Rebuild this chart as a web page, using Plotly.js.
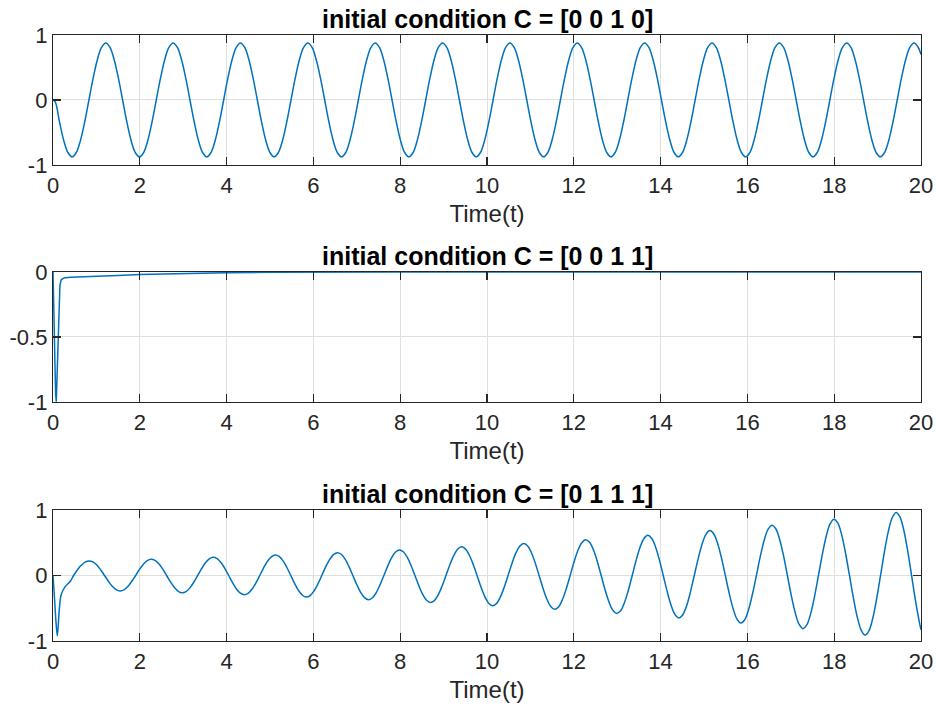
<!DOCTYPE html>
<html>
<head>
<meta charset="utf-8">
<script src="https://cdn.plot.ly/plotly-3.0.1.min.js"></script>
<style>
  html, body { margin: 0; padding: 0; background: #ffffff; }
  #chart { width: 936px; height: 708px; }
</style>
</head>
<body>
<div id="chart"></div>
<script>
// ---------------- data ----------------
const titleTop = 'initial condition C = [0 0 1 0]';
const titleMid = 'initial condition C = [0 0 1 1]';
const titleBot = 'initial condition C = [0 1 1 1]';
const xLabel = 'Time(t)';

const xTickVals = [0, 2, 4, 6, 8, 10, 12, 14, 16, 18, 20];
const yTickValsPM = [-1, 0, 1];
const yTickTextPM = ['-1', '0', '1'];
const yTickValsMid = [-1, -0.5, 0];
const yTickTextMid = ['-1', '-0.5', '0'];

// top panel: C = [0 0 1 0]
const tTop = [0, 0.052, 0.149, 0.246, 0.343,
  0.44, 0.537, 0.634, 0.731, 0.828, 0.925, 1.022, 1.119,
  1.216, 1.313, 1.41, 1.507, 1.604, 1.701, 1.798, 1.895,
  1.992, 2.089, 2.186, 2.283, 2.38, 2.477, 2.574, 2.671,
  2.768, 2.865, 2.962, 3.059, 3.156, 3.253, 3.35, 3.447,
  3.544, 3.641, 3.738, 3.835, 3.932, 4.029, 4.126, 4.223,
  4.32, 4.417, 4.514, 4.611, 4.708, 4.805, 4.902, 4.999,
  5.096, 5.193, 5.29, 5.387, 5.484, 5.581, 5.678, 5.775,
  5.872, 5.969, 6.066, 6.163, 6.26, 6.357, 6.454, 6.551,
  6.648, 6.745, 6.842, 6.939, 7.036, 7.133, 7.23, 7.327,
  7.424, 7.521, 7.618, 7.715, 7.812, 7.909, 8.006, 8.103,
  8.2, 8.297, 8.394, 8.491, 8.588, 8.685, 8.782, 8.879,
  8.976, 9.073, 9.17, 9.267, 9.364, 9.461, 9.558, 9.655,
  9.752, 9.849, 9.946, 10.043, 10.14, 10.237, 10.334, 10.431,
  10.528, 10.625, 10.722, 10.819, 10.916, 11.013, 11.11, 11.207,
  11.304, 11.401, 11.498, 11.595, 11.692, 11.789, 11.886, 11.983,
  12.08, 12.177, 12.274, 12.371, 12.468, 12.565, 12.662, 12.759,
  12.856, 12.953, 13.05, 13.147, 13.244, 13.341, 13.438, 13.535,
  13.632, 13.729, 13.826, 13.923, 14.02, 14.117, 14.214, 14.311,
  14.408, 14.505, 14.602, 14.699, 14.796, 14.893, 14.99, 15.087,
  15.184, 15.281, 15.378, 15.475, 15.572, 15.669, 15.766, 15.863,
  15.96, 16.057, 16.154, 16.251, 16.348, 16.445, 16.542, 16.639,
  16.736, 16.833, 16.93, 17.027, 17.124, 17.221, 17.318, 17.415,
  17.512, 17.609, 17.706, 17.803, 17.9, 17.997, 18.094, 18.191,
  18.288, 18.385, 18.482, 18.579, 18.676, 18.773, 18.87, 18.967,
  19.064, 19.161, 19.258, 19.355, 19.452, 19.549, 19.646, 19.743,
  19.84, 19.937, 20.0];
const yTop = [0, -0.03, -0.335, -0.619, -0.808,
  -0.875, -0.808, -0.619, -0.335, 0, 0.335, 0.619, 0.808,
  0.875, 0.808, 0.619, 0.335, 0, -0.335, -0.619, -0.808,
  -0.875, -0.808, -0.619, -0.335, 0, 0.335, 0.619, 0.808,
  0.875, 0.808, 0.619, 0.335, 0, -0.335, -0.619, -0.808,
  -0.875, -0.808, -0.619, -0.335, 0, 0.335, 0.619, 0.808,
  0.875, 0.808, 0.619, 0.335, 0, -0.335, -0.619, -0.808,
  -0.875, -0.808, -0.619, -0.335, 0, 0.335, 0.619, 0.808,
  0.875, 0.808, 0.619, 0.335, 0, -0.335, -0.619, -0.808,
  -0.875, -0.808, -0.619, -0.335, 0, 0.335, 0.619, 0.808,
  0.875, 0.808, 0.619, 0.335, 0, -0.335, -0.619, -0.808,
  -0.875, -0.808, -0.619, -0.335, 0, 0.335, 0.619, 0.808,
  0.875, 0.808, 0.619, 0.335, 0, -0.335, -0.619, -0.808,
  -0.875, -0.808, -0.619, -0.335, 0, 0.335, 0.619, 0.808,
  0.875, 0.808, 0.619, 0.335, 0, -0.335, -0.619, -0.808,
  -0.875, -0.808, -0.619, -0.335, 0, 0.335, 0.619, 0.808,
  0.875, 0.808, 0.619, 0.335, 0, -0.335, -0.619, -0.808,
  -0.875, -0.808, -0.619, -0.335, 0, 0.335, 0.619, 0.808,
  0.875, 0.808, 0.619, 0.335, 0, -0.335, -0.619, -0.808,
  -0.875, -0.808, -0.619, -0.335, 0, 0.335, 0.619, 0.808,
  0.875, 0.808, 0.619, 0.335, 0, -0.335, -0.619, -0.808,
  -0.875, -0.808, -0.619, -0.335, 0, 0.335, 0.619, 0.808,
  0.875, 0.808, 0.619, 0.335, 0, -0.335, -0.619, -0.808,
  -0.875, -0.808, -0.619, -0.335, 0, 0.335, 0.619, 0.808,
  0.875, 0.808, 0.619, 0.335, 0, -0.335, -0.619, -0.808,
  -0.875, -0.808, -0.619, -0.335, 0, 0.335, 0.619, 0.808,
  0.875, 0.808, 0.70];

// middle panel: C = [0 0 1 1]
const tMid = [0, 0.02, 0.04, 0.06, 0.075, 0.09, 0.105, 0.12, 0.14, 0.16, 0.19, 0.25,
  0.4, 0.75, 1.0, 1.5, 2.0, 2.5, 3.0, 3.5, 4.0, 5.0, 6.0, 8.0, 20];
const yMid = [0, -0.35, -0.7, -0.93, -0.997, -0.8, -0.6, -0.4, -0.2, -0.1, -0.06, -0.046,
  -0.041, -0.038, -0.034, -0.027, -0.02, -0.015, -0.011, -0.008, -0.005, -0.002, -0.001, 0, 0];

// bottom panel: C = [0 1 1 1]
const tBot = [0, 0.037, 0.07, 0.1, 0.145, 0.19, 0.28, 0.4, 0.475, 0.59, 0.65, 0.74,
  0.830, 0.919, 1.009, 1.098, 1.188, 1.277, 1.366, 1.456,
  1.545, 1.635, 1.724, 1.813, 1.903, 1.992, 2.082, 2.171,
  2.260, 2.350, 2.439, 2.529, 2.618, 2.707, 2.797, 2.886,
  2.976, 3.065, 3.154, 3.244, 3.333, 3.423, 3.512, 3.601,
  3.691, 3.780, 3.870, 3.959, 4.048, 4.138, 4.227, 4.317,
  4.406, 4.495, 4.585, 4.674, 4.764, 4.853, 4.942, 5.032,
  5.121, 5.211, 5.300, 5.389, 5.479, 5.568, 5.658, 5.747,
  5.836, 5.926, 6.015, 6.105, 6.194, 6.283, 6.373, 6.462,
  6.552, 6.641, 6.730, 6.820, 6.909, 6.999, 7.088, 7.177,
  7.267, 7.356, 7.446, 7.535, 7.624, 7.714, 7.803, 7.893,
  7.982, 8.071, 8.161, 8.250, 8.340, 8.429, 8.518, 8.608,
  8.697, 8.787, 8.876, 8.965, 9.055, 9.144, 9.234, 9.323,
  9.412, 9.502, 9.591, 9.681, 9.770, 9.859, 9.949, 10.038,
  10.128, 10.217, 10.306, 10.396, 10.485, 10.575, 10.664, 10.753,
  10.843, 10.932, 11.022, 11.111, 11.200, 11.290, 11.379, 11.469,
  11.558, 11.647, 11.737, 11.826, 11.916, 12.005, 12.094, 12.184,
  12.273, 12.363, 12.452, 12.541, 12.631, 12.720, 12.810, 12.899,
  12.988, 13.078, 13.167, 13.257, 13.346, 13.435, 13.525, 13.614,
  13.704, 13.793, 13.882, 13.972, 14.061, 14.151, 14.240, 14.329,
  14.419, 14.508, 14.598, 14.687, 14.776, 14.866, 14.955, 15.045,
  15.134, 15.223, 15.313, 15.402, 15.492, 15.581, 15.670, 15.760,
  15.849, 15.939, 16.028, 16.117, 16.207, 16.296, 16.386, 16.475,
  16.564, 16.654, 16.743, 16.833, 16.922, 17.011, 17.101, 17.190,
  17.280, 17.369, 17.458, 17.548, 17.637, 17.727, 17.816, 17.905,
  17.995, 18.084, 18.174, 18.263, 18.352, 18.442, 18.531, 18.621,
  18.710, 18.799, 18.889, 18.978, 19.068, 19.157, 19.246, 19.336,
  19.425, 19.514, 19.604, 19.693, 19.783, 19.872, 19.961, 20.0];
const yBot = [0, -0.37, -0.72, -0.92, -0.52, -0.29, -0.17, -0.087, 0, 0.11, 0.155, 0.204,
  0.222, 0.207, 0.159, 0.087, 0, -0.088, -0.164, -0.215,
  -0.235, -0.219, -0.168, -0.092, 0, 0.093, 0.173, 0.228,
  0.249, 0.231, 0.178, 0.097, 0, -0.098, -0.183, -0.241,
  -0.263, -0.245, -0.189, -0.103, 0, 0.104, 0.194, 0.255,
  0.278, 0.259, 0.199, 0.109, 0, -0.110, -0.205, -0.270,
  -0.294, -0.274, -0.211, -0.115, 0, 0.117, 0.217, 0.285,
  0.311, 0.290, 0.223, 0.122, 0, -0.123, -0.230, -0.302,
  -0.329, -0.306, -0.236, -0.129, 0, 0.131, 0.243, 0.319,
  0.349, 0.324, 0.250, 0.136, 0, -0.138, -0.257, -0.338,
  -0.369, -0.343, -0.264, -0.144, 0, 0.146, 0.272, 0.358,
  0.390, 0.363, 0.280, 0.152, 0, -0.155, -0.288, -0.378,
  -0.413, -0.384, -0.296, -0.161, 0, 0.164, 0.304, 0.400,
  0.437, 0.406, 0.313, 0.171, 0, -0.173, -0.322, -0.423,
  -0.462, -0.430, -0.331, -0.181, 0, 0.183, 0.341, 0.448,
  0.489, 0.455, 0.351, 0.191, 0, -0.194, -0.360, -0.474,
  -0.517, -0.481, -0.371, -0.202, 0, 0.205, 0.381, 0.501,
  0.547, 0.509, 0.392, 0.214, 0, -0.217, -0.403, -0.531,
  -0.579, -0.539, -0.415, -0.226, 0, 0.229, 0.427, 0.561,
  0.613, 0.570, 0.439, 0.239, 0, -0.243, -0.451, -0.594,
  -0.648, -0.603, -0.465, -0.253, 0, 0.257, 0.478, 0.628,
  0.686, 0.638, 0.492, 0.268, 0, -0.272, -0.505, -0.665,
  -0.725, -0.675, -0.520, -0.283, 0, 0.287, 0.535, 0.703,
  0.768, 0.714, 0.550, 0.300, 0, -0.304, -0.566, -0.744,
  -0.812, -0.755, -0.582, -0.317, 0, 0.322, 0.599, 0.787,
  0.859, 0.799, 0.616, 0.336, 0, -0.340, -0.633, -0.833,
  -0.909, -0.846, -0.652, -0.355, 0, 0.360, 0.670, 0.881,
  0.962, 0.895, 0.690, 0.376, 0, -0.381, -0.709, -0.83];

// ---------------- styling ----------------
const FONT = 'Liberation Sans, Arial, Helvetica, sans-serif';
const INK = '#262626';
const LINE = '#0072BD';

function trace(x, y, xa, ya, smooth) {
  return {
    x: x, y: y, xaxis: xa, yaxis: ya, type: 'scatter', mode: 'lines',
    line: smooth ? { color: LINE, width: 1.5, shape: 'spline', smoothing: 1 }
                 : { color: LINE, width: 1.5 },
    hoverinfo: 'skip', showlegend: false
  };
}

function xAxis(anchor) {
  return {
    anchor: anchor, domain: [0, 1], range: [0, 20],
    tickmode: 'array', tickvals: xTickVals,
    ticks: 'inside', ticklen: 8, tickwidth: 1.2, tickcolor: INK,
    showline: true, linecolor: INK, linewidth: 1.2, mirror: 'ticks',
    showgrid: true, gridcolor: '#dfdfdf', gridwidth: 1, zeroline: false,
    tickfont: { family: FONT, size: 22, color: INK },
    title: { text: xLabel, font: { family: FONT, size: 24, color: INK }, standoff: 8 }
  };
}
function yAxis(anchor, dom, range, vals, text) {
  return {
    anchor: anchor, domain: dom, range: range,
    tickmode: 'array', tickvals: vals, ticktext: text,
    ticks: 'inside', ticklen: 8, tickwidth: 1.2, tickcolor: INK,
    showline: true, linecolor: INK, linewidth: 1.2, mirror: 'ticks',
    showgrid: true, gridcolor: '#dfdfdf', gridwidth: 1, zeroline: false,
    tickfont: { family: FONT, size: 22, color: INK }
  };
}

const domTop = [0.7855, 1];
const domMid = [0.3944, 0.6089];
const domBot = [0, 0.2162];

const data = [
  trace(tTop, yTop, 'x', 'y', true),
  trace(tMid, yMid, 'x2', 'y2', false),
  trace(tBot, yBot, 'x3', 'y3', true)
];

function titleAnn(text, y) {
  return {
    text: '<b>' + text + '</b>', xref: 'paper', yref: 'paper', x: 0.5, y: y,
    xanchor: 'center', yanchor: 'bottom', showarrow: false,
    font: { family: FONT, size: 25, color: '#000000' }
  };
}

const layout = {
  width: 936, height: 708,
  margin: { l: 53, r: 15, t: 35, b: 67 },
  paper_bgcolor: '#ffffff', plot_bgcolor: '#ffffff',
  xaxis: xAxis('y'), yaxis: yAxis('x', domTop, [-1, 1], yTickValsPM, yTickTextPM),
  xaxis2: xAxis('y2'), yaxis2: yAxis('x2', domMid, [-1, 0], yTickValsMid, yTickTextMid),
  xaxis3: xAxis('y3'), yaxis3: yAxis('x3', domBot, [-1, 1], yTickValsPM, yTickTextPM),
  annotations: [
    titleAnn(titleTop, domTop[1]),
    titleAnn(titleMid, domMid[1]),
    titleAnn(titleBot, domBot[1])
  ]
};

Plotly.newPlot('chart', data, layout, { displayModeBar: false, staticPlot: true });
</script>
</body>
</html>
